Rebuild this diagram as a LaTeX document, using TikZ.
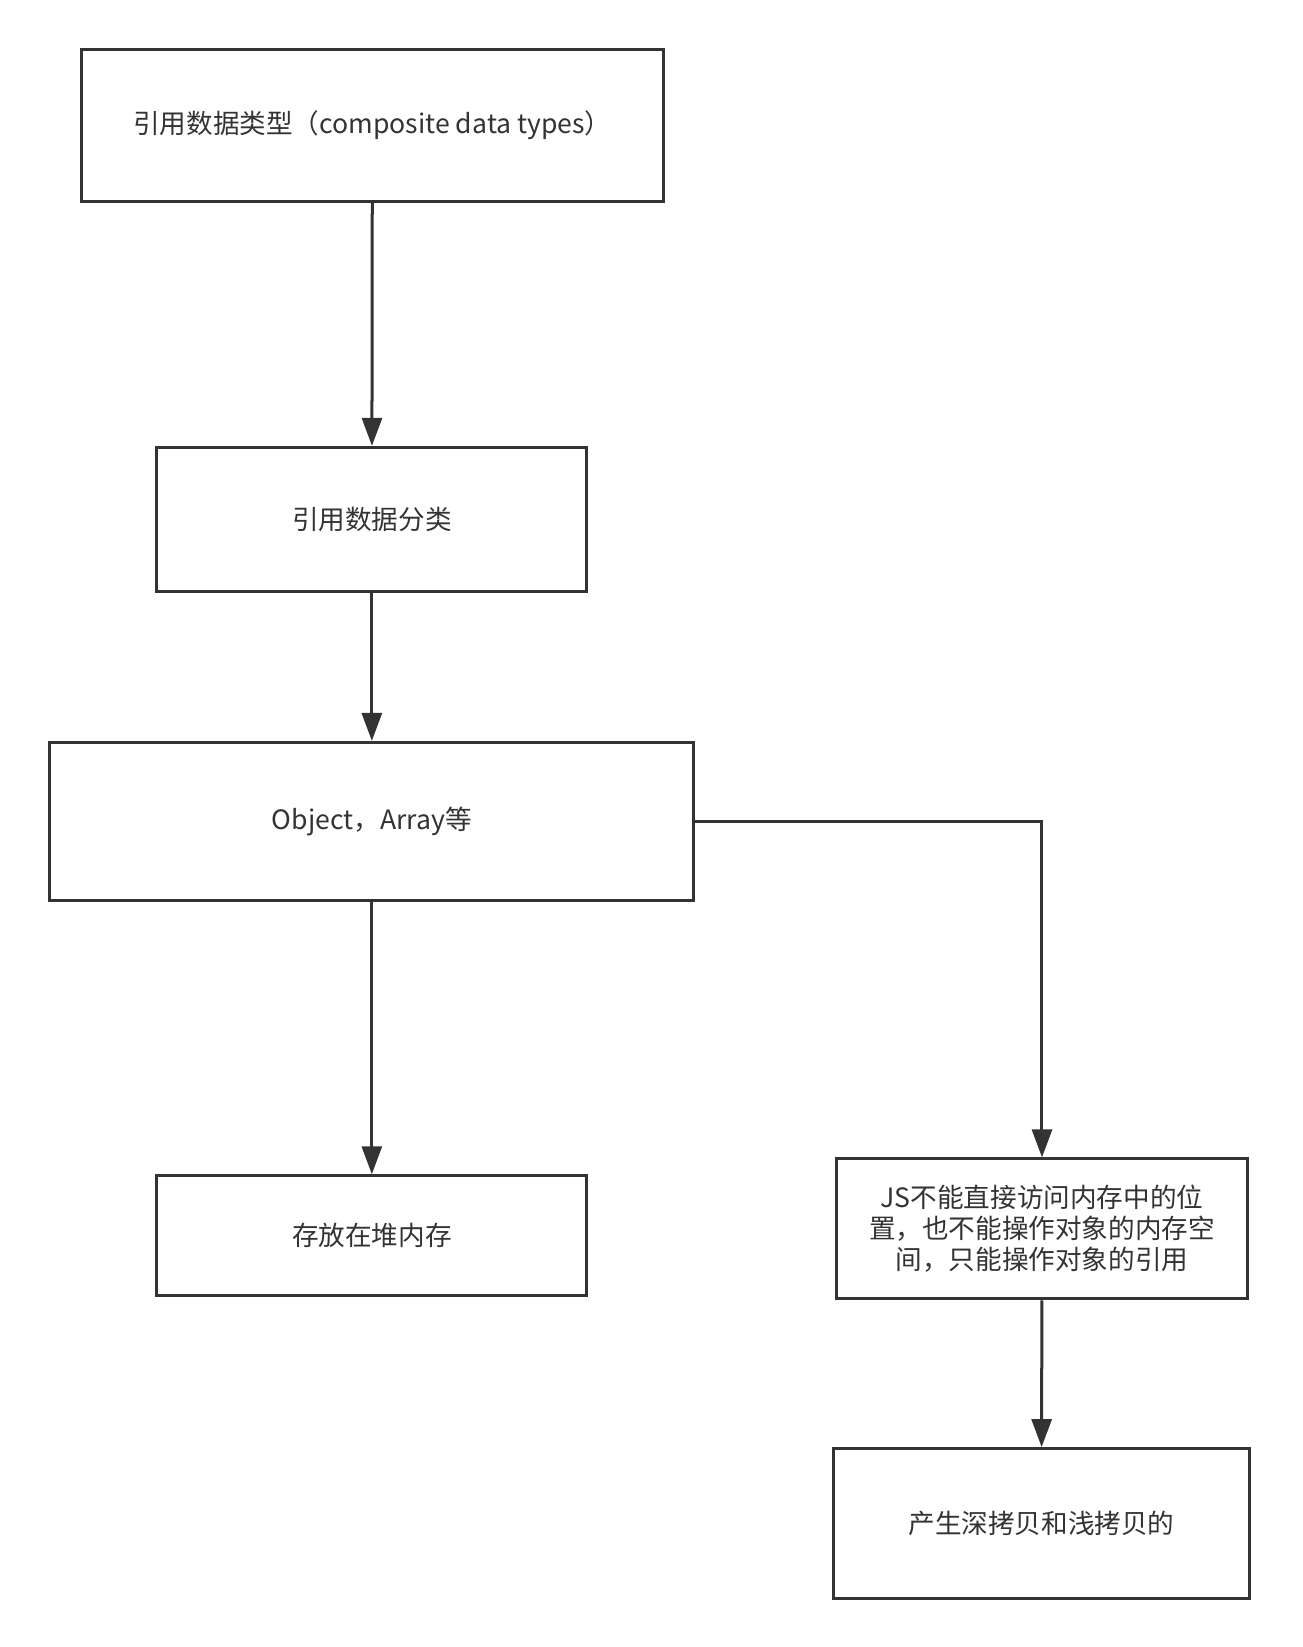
\documentclass[tikz,border=0pt]{standalone}
\usepackage{fontspec}
\setmainfont{Noto Sans CJK SC}
\usetikzlibrary{arrows.meta}
\definecolor{ink}{HTML}{333333}
\begin{document}
\begin{tikzpicture}[x=0.525pt,y=-0.525pt,
	box/.style={draw=ink,line width=1.5pt,rectangle,inner sep=0pt,text=ink,align=center,font=\fontsize{13.3pt}{15.5pt}\selectfont},
	link/.style={draw=ink,line width=1.5pt,-{Triangle[length=14pt,width=10pt]}}]
	\useasboundingbox (0,0) rectangle (1240,1568);
	\begin{scope}
		\node[box,minimum width=291pt,minimum height=76pt] (type) at (354.5,119.5) {引用数据类型（composite data types）};
		\node[box,minimum width=215pt,minimum height=72pt] (kind) at (354,494.5) {引用数据分类};
		\node[box,minimum width=322pt,minimum height=79pt] (obj) at (354,782) {Object，Array等};
		\node[box,minimum width=215pt,minimum height=60pt] (heap) at (354,1176.5) {存放在堆内存};
		\node[box,minimum width=205pt,minimum height=70pt] (js) at (992,1170) {JS不能直接访问内存中的位\\置，也不能操作对象的内存空\\间，只能操作对象的引用};
		\node[box,minimum width=208pt,minimum height=75pt] (copy) at (991.5,1450.5) {产生深拷贝和浅拷贝的};
	\end{scope}

	\draw[link] (type) -- (kind);
	\draw[link] (kind) -- (obj);
	\draw[link] (obj) -- (heap);
	\draw[link] (obj.east) -| (js.north);
	\draw[link] (js) -- (copy);
\end{tikzpicture}
\end{document}
